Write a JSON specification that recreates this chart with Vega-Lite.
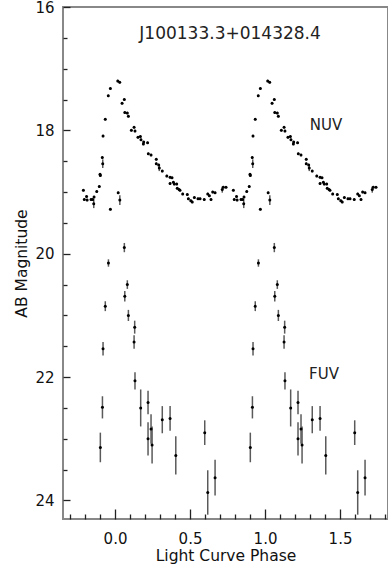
{
  "$schema": "https://vega.github.io/schema/vega-lite/v6.json",
  "width": 325,
  "height": 512,
  "autosize": "none",
  "padding": {"left": 63, "top": 7, "right": 0, "bottom": 47},
  "background": "white",
  "config": {
    "view": {"stroke": "#888888", "strokeWidth": 2},
    "axis": {"grid": false, "domain": false, "ticks": true, "labelOverlap": false, "labelFlush": false, "labelBound": false, "tickColor": "#222222", "tickOpacity": 1, "tickWidth": 1.3, "labelFont": "DejaVu Sans", "labelFontSize": 15, "labelColor": "#111111", "titleFont": "DejaVu Sans", "titleFontSize": 15.5, "titleFontWeight": "normal", "titleColor": "#111111"}
  },
  "data": {"values": [
    {"b":"NUV","p":-0.211,"m":18.97,"e":0.02},{"b":"NUV","p":-0.205,"m":19.12,"e":0.02},{"b":"NUV","p":-0.19,"m":19.07,"e":0.02},{"b":"NUV","p":-0.186,"m":19.13,"e":0.02},
    {"b":"NUV","p":-0.16,"m":19.12,"e":0.02},{"b":"NUV","p":-0.149,"m":19.12,"e":0.02},{"b":"NUV","p":-0.142,"m":19.19,"e":0.07},{"b":"NUV","p":-0.14,"m":19.08,"e":0.02},
    {"b":"NUV","p":-0.122,"m":18.99,"e":0.02},{"b":"NUV","p":-0.105,"m":18.91,"e":0.02},{"b":"NUV","p":-0.1,"m":18.71,"e":0.02},{"b":"NUV","p":-0.098,"m":18.73,"e":0.02},
    {"b":"NUV","p":-0.085,"m":18.44,"e":0.02},{"b":"NUV","p":-0.082,"m":18.54,"e":0.07},{"b":"NUV","p":-0.08,"m":18.09,"e":0.02},{"b":"NUV","p":-0.065,"m":17.82,"e":0.02},
    {"b":"NUV","p":-0.045,"m":17.44,"e":0.02},{"b":"NUV","p":-0.031,"m":17.32,"e":0.02},{"b":"NUV","p":-0.031,"m":19.28,"e":0.02},{"b":"NUV","p":0.018,"m":17.2,"e":0.02},
    {"b":"NUV","p":0.031,"m":17.22,"e":0.02},{"b":"NUV","p":0.021,"m":19.01,"e":0.02},{"b":"NUV","p":0.032,"m":19.13,"e":0.08},{"b":"NUV","p":0.047,"m":17.56,"e":0.02},
    {"b":"NUV","p":0.062,"m":17.5,"e":0.02},{"b":"NUV","p":0.065,"m":17.71,"e":0.02},{"b":"NUV","p":0.082,"m":17.72,"e":0.02},{"b":"NUV","p":0.089,"m":17.77,"e":0.02},
    {"b":"NUV","p":0.109,"m":18.0,"e":0.02},{"b":"NUV","p":0.127,"m":17.95,"e":0.02},{"b":"NUV","p":0.133,"m":18.01,"e":0.02},{"b":"NUV","p":0.153,"m":18.11,"e":0.02},
    {"b":"NUV","p":0.169,"m":18.1,"e":0.02},{"b":"NUV","p":0.173,"m":18.15,"e":0.02},{"b":"NUV","p":0.189,"m":18.22,"e":0.02},{"b":"NUV","p":0.191,"m":18.19,"e":0.02},
    {"b":"NUV","p":0.217,"m":18.2,"e":0.02},{"b":"NUV","p":0.222,"m":18.38,"e":0.02},{"b":"NUV","p":0.24,"m":18.4,"e":0.02},{"b":"NUV","p":0.275,"m":18.47,"e":0.02},
    {"b":"NUV","p":0.275,"m":18.54,"e":0.02},{"b":"NUV","p":0.291,"m":18.56,"e":0.02},{"b":"NUV","p":0.295,"m":18.61,"e":0.05},{"b":"NUV","p":0.315,"m":18.66,"e":0.02},
    {"b":"NUV","p":0.345,"m":18.74,"e":0.02},{"b":"NUV","p":0.367,"m":18.76,"e":0.02},{"b":"NUV","p":0.38,"m":18.77,"e":0.02},{"b":"NUV","p":0.367,"m":18.86,"e":0.02},
    {"b":"NUV","p":0.389,"m":18.84,"e":0.02},{"b":"NUV","p":0.395,"m":18.87,"e":0.02},{"b":"NUV","p":0.411,"m":18.87,"e":0.02},{"b":"NUV","p":0.415,"m":18.94,"e":0.02},
    {"b":"NUV","p":0.427,"m":18.96,"e":0.02},{"b":"NUV","p":0.433,"m":18.97,"e":0.02},{"b":"NUV","p":0.451,"m":19.03,"e":0.02},{"b":"NUV","p":0.482,"m":19.04,"e":0.02},
    {"b":"NUV","p":0.489,"m":19.11,"e":0.02},{"b":"NUV","p":0.505,"m":19.14,"e":0.02},{"b":"NUV","p":0.515,"m":19.16,"e":0.02},{"b":"NUV","p":0.529,"m":19.09,"e":0.02},
    {"b":"NUV","p":0.553,"m":19.11,"e":0.02},{"b":"NUV","p":0.567,"m":19.11,"e":0.02},{"b":"NUV","p":0.595,"m":19.12,"e":0.02},{"b":"NUV","p":0.618,"m":19.03,"e":0.02},
    {"b":"NUV","p":0.629,"m":19.06,"e":0.02},{"b":"NUV","p":0.64,"m":19.12,"e":0.02},{"b":"NUV","p":0.651,"m":19.0,"e":0.02},{"b":"NUV","p":0.667,"m":19.01,"e":0.02},
    {"b":"NUV","p":0.715,"m":18.96,"e":0.05},{"b":"NUV","p":0.722,"m":18.92,"e":0.02},{"b":"NUV","p":0.74,"m":18.92,"e":0.02},
    {"b":"NUV","p":0.789,"m":18.97,"e":0.02},{"b":"NUV","p":0.795,"m":19.12,"e":0.02},{"b":"NUV","p":0.81,"m":19.07,"e":0.02},{"b":"NUV","p":0.814,"m":19.13,"e":0.02},
    {"b":"NUV","p":0.84,"m":19.12,"e":0.02},{"b":"NUV","p":0.851,"m":19.12,"e":0.02},{"b":"NUV","p":0.858,"m":19.19,"e":0.07},{"b":"NUV","p":0.86,"m":19.08,"e":0.02},
    {"b":"NUV","p":0.878,"m":18.99,"e":0.02},{"b":"NUV","p":0.895,"m":18.91,"e":0.02},{"b":"NUV","p":0.9,"m":18.71,"e":0.02},{"b":"NUV","p":0.902,"m":18.73,"e":0.02},
    {"b":"NUV","p":0.915,"m":18.44,"e":0.02},{"b":"NUV","p":0.918,"m":18.54,"e":0.07},{"b":"NUV","p":0.92,"m":18.09,"e":0.02},{"b":"NUV","p":0.935,"m":17.82,"e":0.02},
    {"b":"NUV","p":0.955,"m":17.44,"e":0.02},{"b":"NUV","p":0.969,"m":17.32,"e":0.02},{"b":"NUV","p":0.969,"m":19.28,"e":0.02},{"b":"NUV","p":1.018,"m":17.2,"e":0.02},
    {"b":"NUV","p":1.031,"m":17.22,"e":0.02},{"b":"NUV","p":1.021,"m":19.01,"e":0.02},{"b":"NUV","p":1.032,"m":19.13,"e":0.08},{"b":"NUV","p":1.047,"m":17.56,"e":0.02},
    {"b":"NUV","p":1.062,"m":17.5,"e":0.02},{"b":"NUV","p":1.065,"m":17.71,"e":0.02},{"b":"NUV","p":1.082,"m":17.72,"e":0.02},{"b":"NUV","p":1.089,"m":17.77,"e":0.02},
    {"b":"NUV","p":1.109,"m":18.0,"e":0.02},{"b":"NUV","p":1.127,"m":17.95,"e":0.02},{"b":"NUV","p":1.133,"m":18.01,"e":0.02},{"b":"NUV","p":1.153,"m":18.11,"e":0.02},
    {"b":"NUV","p":1.169,"m":18.1,"e":0.02},{"b":"NUV","p":1.173,"m":18.15,"e":0.02},{"b":"NUV","p":1.189,"m":18.22,"e":0.02},{"b":"NUV","p":1.191,"m":18.19,"e":0.02},
    {"b":"NUV","p":1.217,"m":18.2,"e":0.02},{"b":"NUV","p":1.222,"m":18.38,"e":0.02},{"b":"NUV","p":1.24,"m":18.4,"e":0.02},{"b":"NUV","p":1.275,"m":18.47,"e":0.02},
    {"b":"NUV","p":1.275,"m":18.54,"e":0.02},{"b":"NUV","p":1.291,"m":18.56,"e":0.02},{"b":"NUV","p":1.295,"m":18.61,"e":0.05},{"b":"NUV","p":1.315,"m":18.66,"e":0.02},
    {"b":"NUV","p":1.345,"m":18.74,"e":0.02},{"b":"NUV","p":1.367,"m":18.76,"e":0.02},{"b":"NUV","p":1.38,"m":18.77,"e":0.02},{"b":"NUV","p":1.367,"m":18.86,"e":0.02},
    {"b":"NUV","p":1.389,"m":18.84,"e":0.02},{"b":"NUV","p":1.395,"m":18.87,"e":0.02},{"b":"NUV","p":1.411,"m":18.87,"e":0.02},{"b":"NUV","p":1.415,"m":18.94,"e":0.02},
    {"b":"NUV","p":1.427,"m":18.96,"e":0.02},{"b":"NUV","p":1.433,"m":18.97,"e":0.02},{"b":"NUV","p":1.451,"m":19.03,"e":0.02},{"b":"NUV","p":1.482,"m":19.04,"e":0.02},
    {"b":"NUV","p":1.489,"m":19.11,"e":0.02},{"b":"NUV","p":1.505,"m":19.14,"e":0.02},{"b":"NUV","p":1.515,"m":19.16,"e":0.02},{"b":"NUV","p":1.529,"m":19.09,"e":0.02},
    {"b":"NUV","p":1.553,"m":19.11,"e":0.02},{"b":"NUV","p":1.567,"m":19.11,"e":0.02},{"b":"NUV","p":1.595,"m":19.12,"e":0.02},{"b":"NUV","p":1.618,"m":19.03,"e":0.02},
    {"b":"NUV","p":1.629,"m":19.06,"e":0.02},{"b":"NUV","p":1.64,"m":19.12,"e":0.02},{"b":"NUV","p":1.651,"m":19.0,"e":0.02},{"b":"NUV","p":1.667,"m":19.01,"e":0.02},
    {"b":"NUV","p":1.715,"m":18.96,"e":0.05},{"b":"NUV","p":1.722,"m":18.92,"e":0.02},{"b":"NUV","p":1.74,"m":18.92,"e":0.02},
    {"b":"FUV","p":0.062,"m":19.9,"e":0.075},{"b":"FUV","p":-0.044,"m":20.15,"e":0.06},{"b":"FUV","p":0.082,"m":20.5,"e":0.07},{"b":"FUV","p":0.065,"m":20.69,"e":0.085},
    {"b":"FUV","p":-0.065,"m":20.85,"e":0.08},{"b":"FUV","p":0.089,"m":21.0,"e":0.09},{"b":"FUV","p":0.131,"m":21.19,"e":0.105},{"b":"FUV","p":0.127,"m":21.43,"e":0.11},
    {"b":"FUV","p":-0.08,"m":21.54,"e":0.11},{"b":"FUV","p":0.133,"m":22.06,"e":0.14},{"b":"FUV","p":0.171,"m":22.5,"e":0.3},{"b":"FUV","p":0.22,"m":22.41,"e":0.19},
    {"b":"FUV","p":-0.084,"m":22.49,"e":0.18},{"b":"FUV","p":0.24,"m":22.84,"e":0.24},{"b":"FUV","p":0.22,"m":23.0,"e":0.27},{"b":"FUV","p":0.247,"m":23.1,"e":0.3},
    {"b":"FUV","p":0.315,"m":22.69,"e":0.22},{"b":"FUV","p":0.367,"m":22.67,"e":0.2},{"b":"FUV","p":0.405,"m":23.27,"e":0.31},{"b":"FUV","p":-0.098,"m":23.14,"e":0.24},
    {"b":"FUV","p":0.598,"m":22.9,"e":0.2},{"b":"FUV","p":0.618,"m":23.87,"e":0.36},{"b":"FUV","p":0.667,"m":23.63,"e":0.29},
    {"b":"FUV","p":1.062,"m":19.9,"e":0.075},{"b":"FUV","p":0.956,"m":20.15,"e":0.06},{"b":"FUV","p":1.082,"m":20.5,"e":0.07},{"b":"FUV","p":1.065,"m":20.69,"e":0.085},
    {"b":"FUV","p":0.935,"m":20.85,"e":0.08},{"b":"FUV","p":1.089,"m":21.0,"e":0.09},{"b":"FUV","p":1.131,"m":21.19,"e":0.105},{"b":"FUV","p":1.127,"m":21.43,"e":0.11},
    {"b":"FUV","p":0.92,"m":21.54,"e":0.11},{"b":"FUV","p":1.133,"m":22.06,"e":0.14},{"b":"FUV","p":1.171,"m":22.5,"e":0.3},{"b":"FUV","p":1.22,"m":22.41,"e":0.19},
    {"b":"FUV","p":0.916,"m":22.49,"e":0.18},{"b":"FUV","p":1.24,"m":22.84,"e":0.24},{"b":"FUV","p":1.22,"m":23.0,"e":0.27},{"b":"FUV","p":1.247,"m":23.1,"e":0.3},
    {"b":"FUV","p":1.315,"m":22.69,"e":0.22},{"b":"FUV","p":1.367,"m":22.67,"e":0.2},{"b":"FUV","p":1.405,"m":23.27,"e":0.31},{"b":"FUV","p":0.902,"m":23.14,"e":0.24},
    {"b":"FUV","p":1.598,"m":22.9,"e":0.2},{"b":"FUV","p":1.618,"m":23.87,"e":0.36},{"b":"FUV","p":1.667,"m":23.63,"e":0.29}
  ]},
  "encoding": {
    "x": {"field": "p", "type": "quantitative", "scale": {"domain": [-0.347, 1.82], "nice": false, "zero": false},
      "axis": {"orient": "bottom", "title": "Light Curve Phase", "values": [-0.3,-0.2,-0.1,0,0.1,0.2,0.3,0.4,0.5,0.6,0.7,0.8,0.9,1,1.1,1.2,1.3,1.4,1.5,1.6,1.7,1.8],
        "tickSize": {"condition": {"test": "abs(datum.value*2 - round(datum.value*2)) < 0.001", "value": -10}, "value": -5},
        "labelExpr": "abs(datum.value*2 - round(datum.value*2)) < 0.001 ? format(datum.value, '.1f') : ''",
        "labelPadding": 22, "titlePadding": -3}},
    "y": {"field": "m", "type": "quantitative", "scale": {"domain": [16, 24.3], "reverse": true, "nice": false, "zero": false},
      "axis": {"orient": "left", "title": "AB Magnitude", "values": [16,16.5,17,17.5,18,18.5,19,19.5,20,20.5,21,21.5,22,22.5,23,23.5,24],
        "tickSize": {"condition": {"test": "abs(datum.value/2 - round(datum.value/2)) < 0.001", "value": -7}, "value": -4},
        "labelExpr": "abs(datum.value/2 - round(datum.value/2)) < 0.001 ? format(datum.value, 'd') : ''",
        "labelPadding": 16, "titlePadding": 5}}
  },
  "layer": [
    {
      "mark": {"type": "errorbar", "color": "#5a5a5a", "thickness": 1.5, "clip": true},
      "encoding": {"yError": {"field": "e"}}
    },
    {
      "mark": {"type": "circle", "size": 9, "color": "#000000", "opacity": 1, "clip": true}
    },
    {
      "data": {"values": [{"t": "NUV", "p": 1.407, "m": 17.92}, {"t": "FUV", "p": 1.393, "m": 21.945}]},
      "mark": {"type": "text", "font": "DejaVu Sans", "fontSize": 15, "color": "#222222", "align": "center", "baseline": "middle"},
      "encoding": {"text": {"field": "t"}}
    },
    {
      "data": {"values": [{"t": "J100133.3+014328.4", "p": 0.767, "m": 16.43}]},
      "mark": {"type": "text", "font": "DejaVu Sans", "fontSize": 17, "color": "#222222", "align": "center", "baseline": "middle"},
      "encoding": {"text": {"field": "t"}}
    }
  ]
}
